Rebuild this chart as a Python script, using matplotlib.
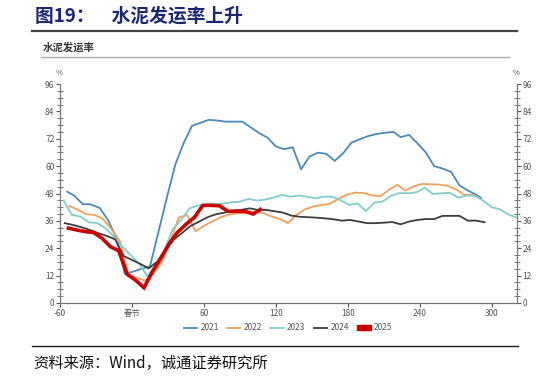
import numpy as np
import matplotlib.pyplot as plt
from matplotlib.lines import Line2D
from matplotlib.patches import Patch
from matplotlib.ticker import MultipleLocator

plt.rcParams['font.family'] = ['Noto Sans CJK SC', 'DejaVu Sans']

# days relative to Spring Festival, cement shipment rate (%)
x21 = [-54, -48, -41, -35, -27, -20, -13, -6, 1, 8, 15, 22, 29, 36, 43, 50, 57, 64, 71, 78, 85, 92, 99,
       106, 113, 120, 127, 134, 141, 148, 155, 162, 169, 176, 183, 190, 197, 204, 211, 218, 224, 231,
       238, 245, 252, 259, 266, 273, 280, 287, 291]
y21 = [48.8, 47, 43.3, 43.3, 41.7, 36.4, 28.5, 12.7, 13.8, 15, 16, 31, 46, 60.5, 70, 77.6, 79, 80.3, 80,
       79.5, 79.5, 79.5, 77, 74.5, 72.5, 68.6, 67.4, 68.3, 58.6, 64.2, 65.9, 65.4, 62.3, 65.6, 70.3, 71.8,
       73.2, 74.1, 74.6, 75, 72.7, 73.7, 70, 66, 60, 58.9, 57.5, 51.6, 49.3, 47.5, 46]

x22 = [-52, -45, -38, -31, -24, -17, -10, -3, 4, 11, 18, 25, 32, 39, 46, 53, 60, 67, 74, 81, 88, 95,
       102, 109, 116, 123, 130, 137, 144, 151, 158, 165, 172, 179, 186, 193, 200, 207, 214, 221, 228,
       235, 242, 249, 256, 263, 270, 277, 284, 289]
y22 = [42.5, 40.8, 38.9, 38.6, 36.7, 32.3, 27, 12.5, 11, 9.8, 13, 18, 27, 37.5, 38.5, 31.5, 33.8, 35.8,
       37.6, 38.8, 39.3, 39.3, 40, 39.5, 38, 36.9, 35, 38.6, 41, 42.3, 43, 43.5, 45.6, 47.5, 48.4, 48.2,
       47.2, 46.8, 49.5, 51.8, 49.3, 51.2, 52.2, 52, 51.9, 51.4, 49.8, 47.4, 47.4, 46.2]

x23 = [-57, -50, -43, -36, -29, -22, -15, -8, -1, 6, 13, 20, 27, 34, 41, 48, 55, 62, 69, 76, 83, 90,
       97, 104, 111, 118, 125, 132, 139, 146, 153, 160, 167, 174, 181, 188, 195, 202, 209, 216, 223,
       230, 237, 244, 251, 258, 265, 272, 279, 286, 293, 300, 307, 314, 320]
y23 = [44.9, 38.6, 37.9, 35.4, 35, 32.8, 29.1, 24.7, 21, 17.3, 11.5, 17, 23, 32.5, 36.5, 41.5, 42.7,
       43.2, 43.4, 43.6, 44.1, 44.4, 45.6, 44.9, 45.3, 46.2, 47.4, 46.6, 47.1, 46.6, 45.9, 46.6, 46.6,
       45, 43, 43.6, 40.3, 44, 44.5, 47, 48.2, 48.1, 48.5, 50.5, 47.8, 48.1, 48.3, 46.2, 47.1, 47, 44.8,
       42, 41, 38.8, 37.5]

x24 = [-56, -49, -42, -35, -28, -21, -14, -7, 0, 7, 14, 21, 28, 35, 42, 49, 56, 63, 70, 77, 84, 91,
       98, 105, 112, 119, 126, 133, 140, 147, 154, 161, 168, 175, 182, 189, 196, 203, 210, 217, 224,
       231, 238, 245, 252, 259, 266, 273, 280, 287, 294]
y24 = [35, 34.2, 33.2, 32, 30.6, 29.4, 27.9, 20.6, 18.9, 17.1, 15.2, 18.1, 23.2, 27.9, 30.8, 33.8, 35.7,
       37.6, 38.9, 39.6, 40.5, 40.8, 41.5, 40.8, 40.8, 40.2, 39.6, 38.3, 37.8, 37.6, 37.4, 37.1, 36.7,
       36.1, 36.4, 35.7, 35, 35, 35.2, 35.5, 34.5, 35.7, 36.4, 36.8, 36.8, 38.2, 38.2, 38.2, 36.1, 36.1,
       35.4]

x25 = [-53, -46, -39, -32, -25, -18, -11, -4, 3, 10, 17, 24, 31, 38, 45, 52, 59, 66, 73, 80, 87, 94,
       101, 107]
y25 = [32.8, 32, 31.3, 30.9, 28.4, 24.7, 22.9, 12.6, 10, 6.7, 13.7, 19.6, 26, 31, 34.5, 37.5, 42.8,
       42.8, 42.6, 40.2, 40.2, 40.2, 39, 41]

years = ['2021', '2022', '2023', '2024', '2025']
colors = ['#4a8ab8', '#f5a05a', '#7fcdcc', '#3d3d3d', '#cc0000']
xticks = [-60, 0, 60, 120, 180, 240, 300]
xlabels = ['-60', '春节', '60', '120', '180', '240', '300']

fig = plt.figure(figsize=(5.47, 3.78), dpi=100)
ax = fig.add_axes([60 / 547, 1 - 303 / 378, 457 / 547, 219 / 378])

series = [(x21, y21), (x22, y22), (x23, y23), (x24, y24)]
for (xs, ys), c in zip(series, colors[:4]):
    ax.plot(xs, ys, color=c, lw=1.3)
ax.plot(x25, y25, color=colors[4], lw=2.6, solid_joinstyle='miter')

ax.set_xlim(-60, 321)
ax.set_ylim(0, 96)
ax.set_xticks(xticks)
ax.set_xticklabels(xlabels)
ax.yaxis.set_major_locator(MultipleLocator(12))
ax.yaxis.set_minor_locator(MultipleLocator(3))
ax.spines['top'].set_visible(False)
for s in ['left', 'right', 'bottom']:
    ax.spines[s].set_color('#777777')
    ax.spines[s].set_linewidth(0.9)
ax.tick_params(axis='both', which='major', labelsize=6, colors='#555555', length=3, width=0.8, pad=1)
ax.tick_params(axis='y', which='minor', direction='inout', length=4, width=0.7, colors='#777777')
ax.tick_params(axis='y', which='both', left=True, right=True, labelleft=True, labelright=True)

fig.text(59 / 547, 1 - 73 / 378, '%', fontsize=5.5, color='#555555', ha='center', va='center')
fig.text(516 / 547, 1 - 73 / 378, '%', fontsize=5.5, color='#555555', ha='center', va='center')

handles = [Line2D([0], [0], color=c, lw=1.3) for c in colors[:4]]
handles.append(Patch(facecolor=colors[4], edgecolor=colors[4]))
fig.legend(handles, years, loc='center', bbox_to_anchor=(288 / 547, 1 - 328 / 378), ncol=5,
           frameon=False, fontsize=6, handlelength=1.6, handleheight=0.5, columnspacing=1.0,
           handletextpad=0.4, labelcolor='#555555')

# header / footer
fig.text(35 / 547, 1 - 16 / 378, '图19：    水泥发运率上升', fontsize=13.5, fontweight='bold',
         color='#1c2774', ha='left', va='center')
fig.add_artist(Line2D([32 / 547, 517 / 547], [1 - 30.5 / 378] * 2, color='#444444', lw=1.6))
fig.text(43 / 547, 1 - 47 / 378, '水泥发运率', fontsize=7.5, fontweight='bold', color='#333333',
         ha='left', va='center')
fig.add_artist(Line2D([41 / 547, 509 / 547], [1 - 56.5 / 378] * 2, color='#aaaaaa', lw=1))
fig.add_artist(Line2D([32 / 547, 518 / 547], [1 - 346 / 378] * 2, color='#222222', lw=1))
fig.text(33 / 547, 1 - 363 / 378, '资料来源：Wind，诚通证券研究所', fontsize=11, color='#111111',
         ha='left', va='center')

fig.savefig('out.png', dpi=100)
